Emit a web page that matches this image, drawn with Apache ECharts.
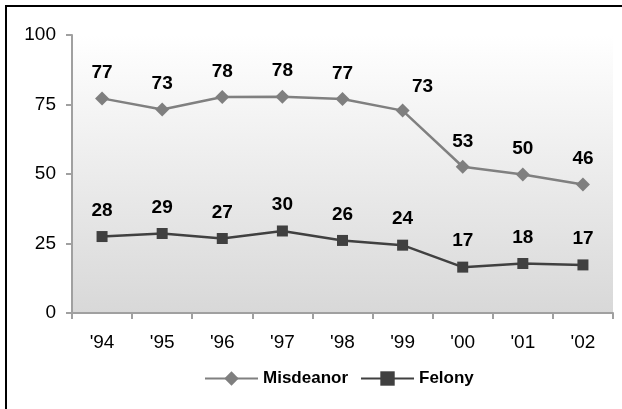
<!DOCTYPE html>
<html><head><meta charset="utf-8">
<script src="https://cdn.jsdelivr.net/npm/echarts@6/dist/echarts.min.js"></script>
<style>html,body{margin:0;padding:0;background:#fff}#c{width:622px;height:409px}</style>
</head><body><div id="c"></div>
<script>
var categories = ["'94","'95","'96","'97","'98","'99","'00","'01","'02"];
var misdemeanor = [77.2, 73.2, 77.7, 77.8, 77.0, 72.8, 52.6, 49.8, 46.2];
var felony = [27.5, 28.6, 26.8, 29.5, 26.1, 24.4, 16.5, 17.8, 17.3];
var yTicks = [0, 25, 50, 75, 100];

var chart = echarts.init(document.getElementById('c'));
function lbl(d){
  return {show:true, position:'top', distance:d, fontFamily:'Arial, Liberation Sans', fontWeight:'bold', fontSize:19, color:'#000', formatter:function(p){return Math.round(p.value);}};
}
var misData = misdemeanor.map(function(v,i){
  return i===5 ? {value:v, label:{offset:[20,2]}} : v;
});
chart.setOption({
  animation:false,
  graphic:[{type:'rect', shape:{x:6,y:6,width:640,height:420}, style:{fill:'none', stroke:'#000', lineWidth:2}, z:100}],
  grid:{left:72, right:9, top:35, bottom:96, show:true, borderWidth:0,
    backgroundColor:new echarts.graphic.LinearGradient(0,0,0,1,[{offset:0,color:'#ffffff'},{offset:1,color:'#d8d8d8'}])},
  legend:{top:365, left:199, itemWidth:53, itemHeight:18, itemGap:12,
    textStyle:{fontFamily:'Arial, Liberation Sans', fontWeight:'bold', fontSize:17, color:'#000'},
    data:['Misdeanor','Felony']},
  xAxis:{type:'category', data:categories, boundaryGap:true,
    axisLine:{lineStyle:{color:'#a0a0a0', width:2}},
    axisTick:{show:true, length:6, lineStyle:{color:'#a0a0a0', width:2}},
    axisLabel:{fontFamily:'Arial, Liberation Sans', fontSize:19, color:'#000', margin:20}},
  yAxis:{type:'value', min:0, max:100, interval:25,
    axisLine:{show:true, lineStyle:{color:'#a0a0a0', width:2}},
    axisTick:{show:true, length:6, lineStyle:{color:'#a0a0a0', width:2}},
    splitLine:{show:false},
    axisLabel:{fontFamily:'Arial, Liberation Sans', fontSize:19, color:'#000', margin:16,
      formatter:function(v){return yTicks.indexOf(v)>=0? String(v):'';}}},
  series:[
    {name:'Misdeanor', type:'line', data:misData, symbol:'diamond', symbolSize:14,
     lineStyle:{color:'#808080', width:2.5}, itemStyle:{color:'#7f7f7f'}, label:lbl(9)},
    {name:'Felony', type:'line', data:felony, symbol:'rect', symbolSize:11,
     lineStyle:{color:'#404040', width:2.5}, itemStyle:{color:'#404040'}, label:lbl(11)}
  ]
});
</script></body></html>
